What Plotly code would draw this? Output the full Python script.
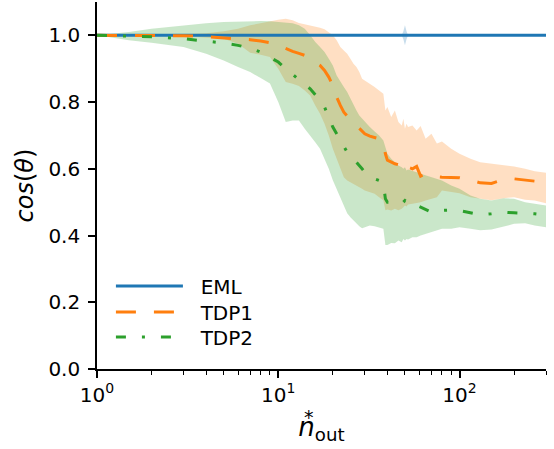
import plotly.graph_objects as go

# ---------------- data ----------------
n_out = [1, 1.5, 2, 3, 4, 5, 6, 7, 8, 9, 10, 11, 12, 13, 14, 15, 16, 17, 18, 19,
         20, 21, 22, 23, 24, 25, 26, 27, 28, 29, 30, 32, 34, 36, 38, 39, 40, 42, 44, 46,
         48, 49, 50, 51, 52, 55, 58, 61, 65, 70, 75, 80, 90, 100, 115, 130, 150, 175,
         200, 230, 260, 300]

eml_mean = [1.0] * len(n_out)
eml_upper = [1.0, 1.0, 1.0, 1.0, 1.0, 1.0, 1.0, 1.0, 1.0, 1.0, 1.0, 1.0, 1.0, 1.0, 1.0, 1.0,
             1.0, 1.0, 1.0, 1.0, 1.0, 1.0, 1.0, 1.0, 1.0, 1.0, 1.0, 1.0, 1.0, 1.0, 1.0, 1.0,
             1.0, 1.0, 1.0, 1.0, 1.0, 1.0, 1.0, 1.0, 1.0, 1.012, 1.03, 1.012, 1.0, 1.0, 1.0,
             1.0, 1.0, 1.0, 1.0, 1.0, 1.0, 1.0, 1.0, 1.0, 1.0, 1.0, 1.0, 1.0, 1.0, 1.0]
eml_lower = [1.0, 1.0, 1.0, 1.0, 1.0, 1.0, 1.0, 1.0, 1.0, 1.0, 1.0, 1.0, 1.0, 1.0, 1.0, 1.0,
             1.0, 1.0, 1.0, 1.0, 1.0, 1.0, 1.0, 1.0, 1.0, 1.0, 1.0, 1.0, 1.0, 1.0, 1.0, 1.0,
             1.0, 1.0, 1.0, 1.0, 1.0, 1.0, 1.0, 1.0, 1.0, 0.988, 0.97, 0.988, 1.0, 1.0, 1.0,
             1.0, 1.0, 1.0, 1.0, 1.0, 1.0, 1.0, 1.0, 1.0, 1.0, 1.0, 1.0, 1.0, 1.0, 1.0]

tdp1_mean = [1.0, 1.0, 1.0, 0.999, 0.996, 0.993, 0.99, 0.987, 0.983, 0.978, 0.97, 0.96,
             0.952, 0.946, 0.94, 0.93, 0.92, 0.91, 0.895, 0.875, 0.85, 0.815, 0.79, 0.77,
             0.758, 0.75, 0.74, 0.73, 0.722, 0.712, 0.705, 0.698, 0.693, 0.69, 0.677, 0.645,
             0.626, 0.62, 0.615, 0.612, 0.6, 0.604, 0.6, 0.61, 0.605, 0.6, 0.607, 0.578,
             0.585, 0.58, 0.576, 0.575, 0.575, 0.573, 0.566, 0.558, 0.556, 0.568, 0.57,
             0.566, 0.563, 0.555]
tdp1_upper = [1.0, 1.0, 1.001, 1.003, 1.006, 1.012, 1.02, 1.03, 1.037, 1.042, 1.047, 1.05,
              1.045, 1.037, 1.033, 1.03, 1.027, 1.023, 1.018, 1.01, 1.0, 0.985, 0.965,
              0.955, 0.945, 0.93, 0.915, 0.905, 0.89, 0.87, 0.865, 0.855, 0.845, 0.835,
              0.825, 0.775, 0.785, 0.755, 0.775, 0.74, 0.73, 0.75, 0.72, 0.735, 0.725, 0.73,
              0.715, 0.728, 0.69, 0.705, 0.676, 0.682, 0.66, 0.645, 0.63, 0.62, 0.616,
              0.612, 0.607, 0.6, 0.593, 0.588]
tdp1_lower = [1.0, 1.0, 0.999, 0.997, 0.993, 0.99, 0.975, 0.948, 0.942, 0.935, 0.9, 0.86,
              0.855, 0.848, 0.835, 0.82, 0.79, 0.765, 0.735, 0.7, 0.66, 0.63, 0.6, 0.575,
              0.565, 0.56, 0.555, 0.55, 0.545, 0.54, 0.535, 0.53, 0.525, 0.515, 0.506,
              0.476, 0.478, 0.475, 0.48, 0.476, 0.48, 0.485, 0.49, 0.487, 0.493, 0.495,
              0.497, 0.5, 0.505, 0.51, 0.515, 0.535, 0.53, 0.527, 0.515, 0.51, 0.506,
              0.512, 0.515, 0.507, 0.505, 0.497]

tdp2_mean = [1.0, 0.997, 0.996, 0.99, 0.983, 0.977, 0.97, 0.962, 0.95, 0.935, 0.92, 0.9,
             0.882, 0.868, 0.853, 0.84, 0.822, 0.805, 0.785, 0.755, 0.725, 0.705, 0.685,
             0.665, 0.65, 0.64, 0.63, 0.62, 0.61, 0.6, 0.59, 0.578, 0.57, 0.565, 0.557,
             0.51, 0.5, 0.5, 0.505, 0.5, 0.502, 0.5, 0.505, 0.5, 0.498, 0.5, 0.49, 0.485,
             0.478, 0.47, 0.475, 0.476, 0.476, 0.475, 0.468, 0.462, 0.465, 0.47, 0.468,
             0.467, 0.465, 0.461]
tdp2_upper = [1.0, 1.01, 1.02, 1.03, 1.036, 1.04, 1.042, 1.043, 1.043, 1.042, 1.04, 1.038,
              1.036, 1.03, 1.02, 1.0, 0.98, 0.965, 0.95, 0.93, 0.91, 0.88, 0.86, 0.845,
              0.83, 0.81, 0.795, 0.775, 0.76, 0.75, 0.74, 0.725, 0.712, 0.7, 0.685, 0.665,
              0.645, 0.63, 0.62, 0.61, 0.605, 0.6, 0.605, 0.595, 0.598, 0.595, 0.59, 0.585,
              0.58, 0.575, 0.57, 0.565, 0.55, 0.54, 0.52, 0.51, 0.505, 0.512, 0.51, 0.5,
              0.495, 0.49]
tdp2_lower = [1.0, 0.985, 0.978, 0.965, 0.945, 0.925, 0.905, 0.89, 0.872, 0.856, 0.8, 0.74,
              0.745, 0.745, 0.72, 0.7, 0.68, 0.66, 0.63, 0.6, 0.566, 0.54, 0.515, 0.49,
              0.467, 0.455, 0.445, 0.435, 0.428, 0.422, 0.425, 0.43, 0.428, 0.425, 0.42,
              0.372, 0.372, 0.378, 0.377, 0.385, 0.38, 0.39, 0.385, 0.39, 0.388, 0.395,
              0.395, 0.4, 0.405, 0.41, 0.416, 0.42, 0.42, 0.425, 0.42, 0.416, 0.418, 0.428,
              0.435, 0.437, 0.43, 0.425]

x_tickvals = [1, 10, 100]
x_ticktext = ["10<sup>0</sup>", "10<sup>1</sup>", "10<sup>2</sup>"]
x_minor = [2, 3, 4, 5, 6, 7, 8, 9, 20, 30, 40, 50, 60, 70, 80, 90, 200, 300]
y_tickvals = [0.0, 0.2, 0.4, 0.6, 0.8, 1.0]
y_ticktext = ["0.0", "0.2", "0.4", "0.6", "0.8", "1.0"]

series = [
    ("EML", eml_mean, eml_lower, eml_upper, "#1f77b4", "rgba(31,119,180,0.25)", "solid", "legend"),
    ("TDP1", tdp1_mean, tdp1_lower, tdp1_upper, "#ff7f0e", "rgba(255,127,14,0.25)", "20px,18px", "legend2"),
    ("TDP2", tdp2_mean, tdp2_lower, tdp2_upper, "#2ca02c", "rgba(44,160,44,0.25)", "10px,16px,3px,16px", "legend3"),
]

FONT = "DejaVu Sans"
NB = "\u00a0\u00a0"
fig = go.Figure()

for name, mean, lo, up, col, fcol, dash, lg in series:
    fig.add_trace(go.Scatter(x=n_out, y=up, mode="lines", line=dict(width=0, color=col),
                             showlegend=False, hoverinfo="skip"))
    fig.add_trace(go.Scatter(x=n_out, y=lo, mode="lines", line=dict(width=0, color=col),
                             fill="tonexty", fillcolor=fcol, showlegend=False, hoverinfo="skip"))

for name, mean, lo, up, col, fcol, dash, lg in series:
    fig.add_trace(go.Scatter(x=n_out, y=mean, mode="lines", name=NB + name, legend=lg,
                             line=dict(color=col, width=3, dash=dash)))

leg_common = dict(x=0.031, xanchor="left", yanchor="middle", bgcolor="rgba(0,0,0,0)",
                  font=dict(size=20, family=FONT, color="black"), itemwidth=67, borderwidth=0)

fig.update_layout(
    width=554, height=449,
    margin=dict(l=97, r=8, t=2, b=80),
    paper_bgcolor="white", plot_bgcolor="white",
    font=dict(family=FONT, size=20, color="black"),
    showlegend=True,
    legend=dict(y=0.226, **leg_common),
    legend2=dict(y=0.155, **leg_common),
    legend3=dict(y=0.087, **leg_common),
)

fig.update_xaxes(
    type="log", range=[0, 2.4771],
    tickmode="array", tickvals=x_tickvals, ticktext=x_ticktext,
    ticks="outside", ticklen=7, tickwidth=1.6, tickcolor="black",
    showline=True, linecolor="black", linewidth=1.6, mirror=False,
    showgrid=False, zeroline=False,
    tickfont=dict(size=20, family=FONT),
    minor=dict(tickmode="array", tickvals=x_minor, ticks="outside", ticklen=4,
               tickwidth=1.2, tickcolor="black", showgrid=False),
    title=dict(text="<i>n</i><sub>out</sub>", font=dict(size=26, family=FONT), standoff=12),
)
fig.update_yaxes(
    range=[0, 1.1],
    tickmode="array", tickvals=y_tickvals, ticktext=y_ticktext,
    ticks="outside", ticklen=7, tickwidth=1.6, tickcolor="black",
    showline=True, linecolor="black", linewidth=1.6, mirror=False,
    showgrid=False, zeroline=False, ticklabelstandoff=4,
    tickfont=dict(size=20, family=FONT),
    title=dict(text="<i>cos</i>(<i>θ</i>)", font=dict(size=24, family=FONT), standoff=8),
)

fig.add_annotation(text="*", xref="paper", yref="paper", x=0.473, y=-0.165,
                   showarrow=False, font=dict(size=19, family=FONT, color="black"))

fig.write_html("out.html")
